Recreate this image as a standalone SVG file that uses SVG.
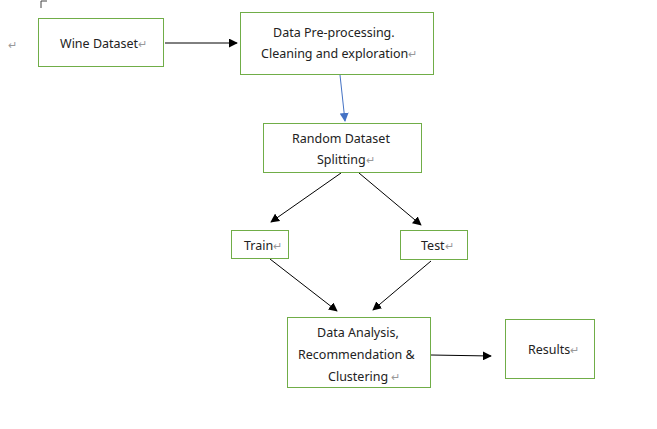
<svg xmlns="http://www.w3.org/2000/svg" width="657" height="429" viewBox="0 0 657 429">
<style>
.box{fill:#fff;stroke:#70ad47;stroke-width:1}
.t{font-family:"Noto Sans","Noto Sans CJK SC",sans-serif;font-size:12.5px;fill:#222}
.m{fill:#999;font-size:11px}
.c{stroke:#000;stroke-width:1;fill:none;marker-end:url(#ah)}
.cb{stroke:#4472c4;stroke-width:1;fill:none;marker-end:url(#ahb)}
</style>
<defs>
<marker id="ah" viewBox="0 0 10 10" refX="9" refY="5" markerWidth="9" markerHeight="9" markerUnits="userSpaceOnUse" orient="auto"><path d="M0,0 L10,5 L0,10 z" fill="#000"/></marker>
<marker id="ahb" viewBox="0 0 10 10" refX="9" refY="5" markerWidth="9" markerHeight="9" markerUnits="userSpaceOnUse" orient="auto"><path d="M0,0 L10,5 L0,10 z" fill="#4472c4"/></marker>
</defs>
<rect width="657" height="429" fill="#fff"/>
<path d="M41,8 V1 M41,1 H47" stroke="#444" stroke-width="1" fill="none"/>
<text class="t m" x="8" y="49">↵</text>
<g id="connectors">
<line class="c" x1="165" y1="43" x2="237" y2="43"/>
<line class="cb" x1="340" y1="75" x2="345" y2="121"/>
<line class="c" x1="341" y1="173" x2="271" y2="222"/>
<line class="c" x1="359" y1="173" x2="421" y2="225"/>
<line class="c" x1="270" y1="259" x2="337" y2="311"/>
<line class="c" x1="431" y1="261" x2="373" y2="310"/>
<line class="c" x1="431" y1="355" x2="491" y2="356"/>
</g>
<g id="wine">
<rect class="box" x="38.5" y="18.5" width="125" height="48"/>
<text class="t" x="60" y="48">Wine Dataset<tspan class="m">↵</tspan></text>
</g>
<g id="preprocessing">
<rect class="box" x="240.5" y="12.5" width="193" height="62"/>
<text class="t" x="273" y="37">Data Pre-processing.</text>
<text class="t" x="261" y="58">Cleaning and exploration<tspan class="m">↵</tspan></text>
</g>
<g id="splitting">
<rect class="box" x="263.5" y="123.5" width="158" height="49"/>
<text class="t" x="292" y="143">Random Dataset</text>
<text class="t" x="317" y="164">Splitting<tspan class="m">↵</tspan></text>
</g>
<g id="train">
<rect class="box" x="231.5" y="230.5" width="57" height="28"/>
<text class="t" x="244" y="250">Train<tspan class="m">↵</tspan></text>
</g>
<g id="test">
<rect class="box" x="400.5" y="230.5" width="67" height="29"/>
<text class="t" x="421" y="250">Test<tspan class="m">↵</tspan></text>
</g>
<g id="analysis">
<rect class="box" x="287.5" y="317.5" width="143" height="70"/>
<text class="t" x="317" y="337">Data Analysis,</text>
<text class="t" x="298" y="359">Recommendation &amp;</text>
<text class="t" x="328" y="381">Clustering <tspan class="m">↵</tspan></text>
</g>
<g id="results">
<rect class="box" x="505.5" y="319.5" width="89" height="59"/>
<text class="t" x="528" y="354">Results<tspan class="m">↵</tspan></text>
</g>
</svg>
